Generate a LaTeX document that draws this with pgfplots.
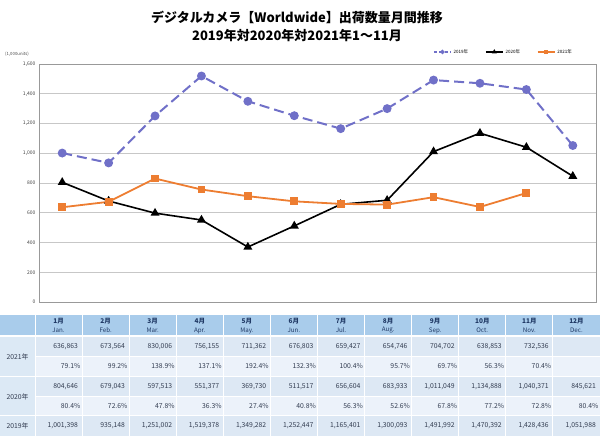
\documentclass[border=0pt]{standalone}
\usepackage{fontspec}
\setmainfont{Noto Sans CJK JP}
\usepackage{pgfplots}
\pgfplotsset{compat=1.18}
\definecolor{c19}{RGB}{112,112,200}
\definecolor{c21}{RGB}{237,125,49}
\definecolor{hdr}{RGB}{169,204,235}
\definecolor{lab}{RGB}{220,233,245}
\definecolor{rowa}{RGB}{221,232,244}
\definecolor{rowb}{RGB}{236,242,250}
\definecolor{navy}{RGB}{31,56,100}
\definecolor{txt}{RGB}{50,60,80}
\begin{document}
\begin{tikzpicture}[x=1pt,y=-1pt]
\path[use as bounding box] (0,0) rectangle (600,436);
\node[font=\bfseries\fontsize{13}{15}\selectfont] at (297,17) {デジタルカメラ【Worldwide】出荷数量月間推移};
\node[font=\bfseries\fontsize{13}{15}\selectfont] at (297,36) {2019年対2020年対2021年1～11月};
\node[anchor=west,font=\fontsize{4.3}{5}\selectfont,text=black!70,inner sep=0pt] at (5,54) {(1,000units)};
\begin{axis}[at={(39pt,-302pt)},anchor=south west,scale only axis,width=557pt,height=238pt,
  xmin=-0.5,xmax=11.5,ymin=0,ymax=1600,xtick=\empty,ytick={0,200,...,1600},
  ymajorgrids, grid style={black!22,line width=0.6pt}, axis line style={black!40,line width=0.8pt},
  ytick style={draw=none},
  yticklabel style={font=\fontsize{5}{6}\selectfont,text=black!75},
  /pgf/number format/.cd,1000 sep={,},assume math mode=true,
  /pgfplots/.cd,
  legend style={at={(0.966,1.022)},anchor=south east,draw=none,fill=none,legend columns=3,
    font=\fontsize{4.5}{5}\selectfont,/tikz/every even column/.append style={column sep=15pt}},
  every legend image post/.append style={mark size=1.5pt,line width=1.3pt},
  clip=false]
\addplot[c19, line width=2pt, dash pattern=on 10pt off 5pt, mark=*, mark size=3.4pt, mark options={solid},
  legend image post style={dash pattern=on 3.5pt off 2pt}] coordinates {
(0,1001.398) (1,935.148) (2,1251.002) (3,1519.378) (4,1349.282) (5,1252.447) (6,1165.401) (7,1300.093) (8,1491.992) (9,1470.392) (10,1428.436) (11,1051.988)};
\addlegendentry{2019年}
\addplot[black, line width=1.6pt, mark=triangle*, mark size=3.6pt] coordinates {
(0,804.646) (1,679.043) (2,597.513) (3,551.377) (4,369.730) (5,511.517) (6,656.604) (7,683.933) (8,1011.049) (9,1134.888) (10,1040.371) (11,845.621)};
\addlegendentry{2020年}
\addplot[c21, line width=1.8pt, mark=square*, mark size=3pt] coordinates {
(0,636.863) (1,673.564) (2,830.006) (3,756.155) (4,711.362) (5,676.803) (6,659.427) (7,654.746) (8,704.702) (9,638.853) (10,732.536)};
\addlegendentry{2021年}
\end{axis}
% table
\def\cw{47.0833}
\fill[hdr] (0,315) rectangle (600,336);
\fill[lab] (0,336) rectangle (35,436);
\fill[rowa] (35,336) rectangle (600,356.5);
\fill[rowb] (35,356.5) rectangle (600,376.5);
\fill[rowa] (35,376.5) rectangle (600,396.5);
\fill[rowb] (35,396.5) rectangle (600,415.5);
\fill[rowa] (35,415.5) rectangle (600,436);
\draw[white,line width=1.2pt] (0,336) -- (600,336) (0,376.5) -- (600,376.5) (0,415.5) -- (600,415.5);
\draw[white,line width=0.7pt] (35,356.5) -- (600,356.5) (35,396.5) -- (600,396.5);
\foreach \i in {0,...,11} {\draw[white,line width=1pt] ({35+\i*\cw},315) -- ({35+\i*\cw},436);}
\foreach \m/\e [count=\i from 0] in {1月/Jan.,2月/Feb.,3月/Mar.,4月/Apr.,5月/May.,6月/Jun.,7月/Jul.,8月/Aug.,9月/Sep.,10月/Oct.,11月/Nov.,12月/Dec.} {
  \node[font=\bfseries\fontsize{6.5}{7}\selectfont,text=navy,inner sep=0pt] at ({35+(\i+0.5)*\cw},321.5) {\m};
  \node[font=\fontsize{6.2}{7}\selectfont,text=navy,inner sep=0pt] at ({35+(\i+0.5)*\cw},330.5) {\e};
}
\foreach \v [count=\i from 0] in {{636,863},{673,564},{830,006},{756,155},{711,362},{676,803},{659,427},{654,746},{704,702},{638,853},{732,536}}
  {\node[anchor=east,font=\fontsize{6.8}{7}\selectfont,text=txt,inner sep=0pt] at ({35+(\i+1)*\cw-4},346.5) {\v};}
\foreach \v [count=\i from 0] in {79.1,99.2,138.9,137.1,192.4,132.3,100.4,95.7,69.7,56.3,70.4}
  {\node[anchor=east,font=\fontsize{6.8}{7}\selectfont,text=txt,inner sep=0pt] at ({35+(\i+1)*\cw-1.5},366) {\v\%};}
\foreach \v [count=\i from 0] in {{804,646},{679,043},{597,513},{551,377},{369,730},{511,517},{656,604},{683,933},{1,011,049},{1,134,888},{1,040,371},{845,621}}
  {\node[anchor=east,font=\fontsize{6.8}{7}\selectfont,text=txt,inner sep=0pt] at ({35+(\i+1)*\cw-4},386.5) {\v};}
\foreach \v [count=\i from 0] in {80.4,72.6,47.8,36.3,27.4,40.8,56.3,52.6,67.8,77.2,72.8,80.4}
  {\node[anchor=east,font=\fontsize{6.8}{7}\selectfont,text=txt,inner sep=0pt] at ({35+(\i+1)*\cw-1.5},406) {\v\%};}
\foreach \v [count=\i from 0] in {{1,001,398},{935,148},{1,251,002},{1,519,378},{1,349,282},{1,252,447},{1,165,401},{1,300,093},{1,491,992},{1,470,392},{1,428,436},{1,051,988}}
  {\node[anchor=east,font=\fontsize{6.8}{7}\selectfont,text=txt,inner sep=0pt] at ({35+(\i+1)*\cw-4},426) {\v};}
\node[font=\fontsize{6.8}{7}\selectfont,text=txt,inner sep=0pt] at (17.5,356.5) {2021年};
\node[font=\fontsize{6.8}{7}\selectfont,text=txt,inner sep=0pt] at (17.5,396.5) {2020年};
\node[font=\fontsize{6.8}{7}\selectfont,text=txt,inner sep=0pt] at (17.5,426) {2019年};
\end{tikzpicture}
\end{document}
